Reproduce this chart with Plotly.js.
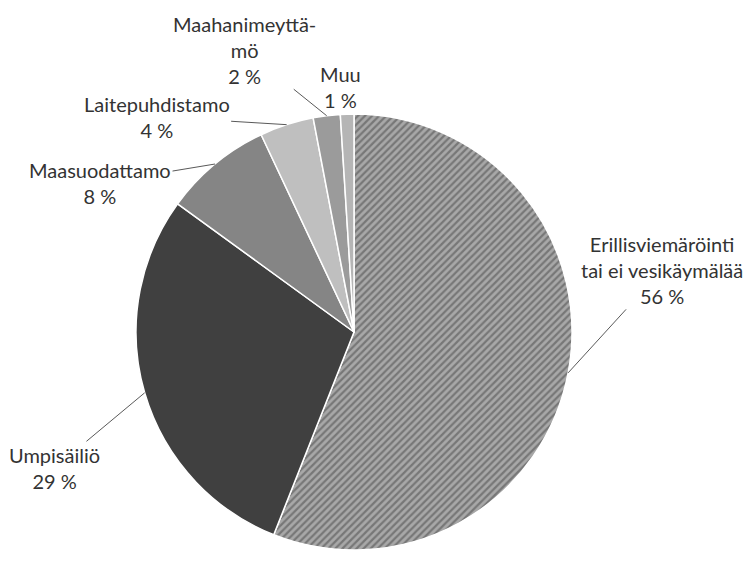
<!DOCTYPE html>
<html>
<head>
<meta charset="utf-8">
<script src="https://cdn.plot.ly/plotly-3.0.1.min.js"></script>
<style>body{margin:0;background:#fff;}</style>
</head>
<body>
<div id="myViz" style="width:750px;height:565px;"></div>
<script>
var labels = ['Erillisviemäröinti tai ei vesikäymälää', 'Umpisäiliö', 'Maasuodattamo',
              'Laitepuhdistamo', 'Maahanimeyttämö', 'Muu'];
var labelText = ['Erillisviemäröinti<br>tai ei vesikäymälää', 'Umpisäiliö', 'Maasuodattamo',
                 'Laitepuhdistamo', 'Maahanimeyttä-<br>mö', 'Muu'];
var values = [56, 29, 8, 4, 2, 1];
var colors = ['#a6a6a6', '#404040', '#858585', '#bfbfbf', '#9b9b9b', '#b5b5b5'];

// where the labels sit, relative to the slice edge (px)
var offX = [94, -90, -115, -130, -82, -7];
var offY = [-103, 75, 19, -8, -66, -27];

var W = 750, H = 565;
var cx = 354, cy = 332, r = 218;

var slices = {
    type: 'pie',
    labels: labels,
    values: values,
    sort: false,
    direction: 'clockwise',
    rotation: 0,
    textinfo: 'none',
    hoverinfo: 'label+percent',
    marker: {
        colors: colors,
        line: {color: '#ffffff', width: 1.5},
        pattern: {
            shape: ['/', '', '', '', '', ''],
            fgcolor: '#777777',
            bgcolor: '#a8a8a8',
            size: 5,
            solidity: 0.45,
            fillmode: 'replace'
        }
    },
    domain: {
        x: [(cx - r) / W, (cx + r) / W],
        y: [1 - (cy + r) / H, 1 - (cy - r) / H]
    }
};

// label annotations anchored at each slice's middle angle
var total = values.reduce(function (a, b) { return a + b; }, 0);
var annotations = [];
var cum = 0;
for (var i = 0; i < values.length; i++) {
    var mid = (cum + values[i] / 2) / total * 2 * Math.PI;
    cum += values[i];
    var px = cx + r * Math.sin(mid);
    var py = cy - r * Math.cos(mid);
    var ann = {
        x: px / W,
        y: 1 - py / H,
        xref: 'paper',
        yref: 'paper',
        text: labelText[i] + '<br>' + values[i] + ' %',
        showarrow: true,
        arrowhead: 0,
        arrowwidth: 1,
        arrowcolor: '#595959',
        ax: offX[i],
        ay: offY[i],
        standoff: 0,
        font: {family: 'Lato, "Open Sans", sans-serif', size: 20, color: '#333333'},
        align: 'center'
    };
    if (i === 5) {
        // Muu sits right above its sliver, no leader line
        ann.showarrow = false;
        ann.xanchor = 'center';
        ann.yanchor = 'middle';
        ann.xshift = offX[i];
        ann.yshift = -offY[i];
    }
    annotations.push(ann);
}

var layout = {
    width: W,
    height: H,
    margin: {l: 0, r: 0, t: 0, b: 0},
    showlegend: false,
    paper_bgcolor: '#ffffff',
    annotations: annotations
};

Plotly.newPlot('myViz', [slices], layout, {displayModeBar: false});
</script>
</body>
</html>
